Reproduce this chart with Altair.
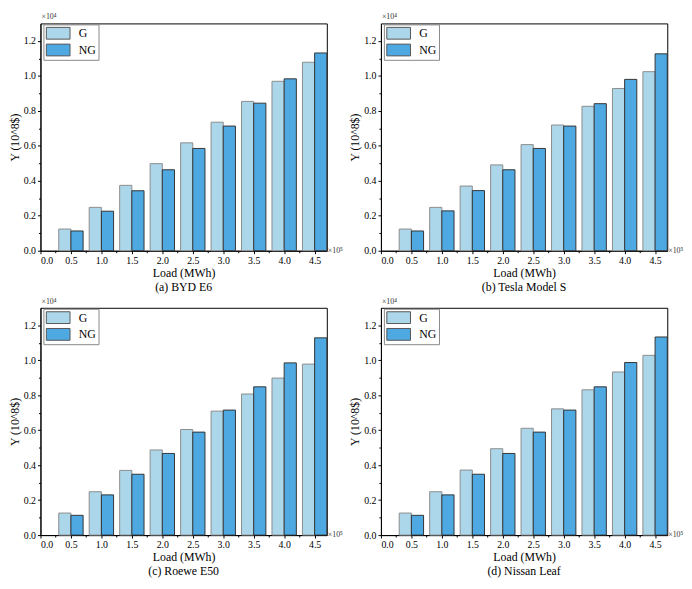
import altair as alt
import pandas as pd

loads = [0.5, 1.0, 1.5, 2.0, 2.5, 3.0, 3.5, 4.0, 4.5]
series = ["G", "NG"]
fills = ["#acd6e9", "#4ea9e2"]
titles = ["(a) BYD E6", "(b) Tesla Model S", "(c) Roewe E50", "(d) Nissan Leaf"]

g_a = [0.124, 0.248, 0.374, 0.498, 0.617, 0.735, 0.854, 0.969, 1.078]
ng_a = [0.113, 0.226, 0.343, 0.463, 0.585, 0.713, 0.844, 0.983, 1.131]
g_b = [0.124, 0.248, 0.370, 0.491, 0.607, 0.719, 0.826, 0.928, 1.024]
ng_b = [0.113, 0.228, 0.344, 0.463, 0.585, 0.713, 0.841, 0.980, 1.126]
g_c = [0.126, 0.248, 0.370, 0.487, 0.604, 0.709, 0.807, 0.898, 0.978]
ng_c = [0.113, 0.230, 0.348, 0.467, 0.589, 0.715, 0.848, 0.985, 1.128]
g_d = [0.126, 0.248, 0.372, 0.494, 0.611, 0.722, 0.831, 0.933, 1.028]
ng_d = [0.113, 0.230, 0.348, 0.467, 0.589, 0.715, 0.848, 0.987, 1.133]

y_ticks = [0.0, 0.2, 0.4, 0.6, 0.8, 1.0, 1.2]
y_minor = [0.1, 0.3, 0.5, 0.7, 0.9, 1.1]
x_ticks = [0.0, 0.5, 1.0, 1.5, 2.0, 2.5, 3.0, 3.5, 4.0, 4.5]
x_minor = [0.25, 0.75, 1.25, 1.75, 2.25, 2.75, 3.25, 3.75, 4.25]

W, H = 291, 231
FONT = "Liberation Serif"
SWATCH = "M-1.85,-0.92H1.85V0.92H-1.85Z"


def panel(title, g, ng):
    df = pd.DataFrame({
        "load": loads * 2,
        "series": ["G"] * len(g) + ["NG"] * len(ng),
        "value": g + ng,
    })
    base = alt.Chart(df).transform_calculate(
        x0="datum.series == 'G' ? datum.load - 0.2 : datum.load",
        x1="datum.series == 'G' ? datum.load : datum.load + 0.2",
    )
    xs = alt.Scale(domain=[0, 4.7], nice=False, zero=False)
    ys = alt.Scale(domain=[0, 1.3], nice=False)
    bars = base.mark_bar(strokeWidth=1).encode(
        x=alt.X("x0:Q", scale=xs,
                axis=alt.Axis(values=x_ticks, format=".1f", title="Load (MWh)",
                              labelFont=FONT, titleFont=FONT,
                              labelPadding=2, titlePadding=2, orient="bottom")),
        x2="x1:Q",
        y=alt.Y("value:Q", scale=ys,
                axis=alt.Axis(values=y_ticks, format=".1f", title="Y (10^8$)",
                              labelFont=FONT, titleFont=FONT,
                              labelPadding=2, titlePadding=2, orient="left")),
        y2=alt.datum(0),
        fill=alt.Fill("series:N", scale=alt.Scale(domain=series, range=fills),
                      legend=alt.Legend(title=None, orient="none", legendX=3, legendY=1,
                                        symbolType=SWATCH, symbolSize=169,
                                        symbolStrokeWidth=1, symbolStrokeColor="#555555",
                                        symbolOffset=6, labelOffset=14,
                                        strokeColor="#888888", fillColor="white",
                                        padding=2, rowPadding=1,
                                        labelFont=FONT, labelFontSize=12)),
        stroke=alt.condition("datum.series == 'G'", alt.value("#8c8c8c"), alt.value("#333333")),
    )
    minor = base.mark_point(opacity=0).encode(
        x=alt.X("load:Q", scale=xs,
                axis=alt.Axis(values=x_minor, labels=False, domain=False, tickSize=2,
                              title=None, orient="bottom")),
        y=alt.Y("value:Q", scale=ys,
                axis=alt.Axis(values=y_minor, labels=False, domain=False, tickSize=2,
                              title=None, orient="left")),
    )
    t4 = alt.Chart(pd.DataFrame({"t": ["×10⁴"]})).mark_text(
        align="left", baseline="bottom", font=FONT, fontSize=8, color="#333333"
    ).encode(x=alt.value(1), y=alt.value(-2), text="t:N")
    t5 = alt.Chart(pd.DataFrame({"t": ["×10⁵"]})).mark_text(
        align="left", baseline="middle", font=FONT, fontSize=8, color="#333333"
    ).encode(x=alt.value(W + 1), y=alt.value(H), text="t:N")
    return alt.layer(bars, minor, t4, t5).resolve_axis(
        x="independent", y="independent"
    ).properties(
        width=W, height=H,
        title=alt.TitleParams(title, orient="bottom", anchor="middle", offset=4,
                              font=FONT, fontSize=12, fontWeight="normal", color="black"),
    )


panels = [
    panel(titles[0], g_a, ng_a),
    panel(titles[1], g_b, ng_b),
    panel(titles[2], g_c, ng_c),
    panel(titles[3], g_d, ng_d),
]

chart = alt.concat(
    *panels, columns=2, spacing={"row": 58, "column": 55}, bounds="flush"
).resolve_scale(fill="independent").properties(
    padding={"left": 0, "top": 0, "right": 0, "bottom": 0}
).configure_view(
    stroke="black", strokeWidth=1
).configure_axis(
    labelFont=FONT, titleFont=FONT, labelFontSize=10, titleFontSize=12,
    titleFontWeight="normal", labelColor="black", titleColor="black",
    domainColor="black", tickColor="black", tickSize=3, grid=False,
)

chart.save("out.html", embed_options={"renderer": "svg", "actions": False})
